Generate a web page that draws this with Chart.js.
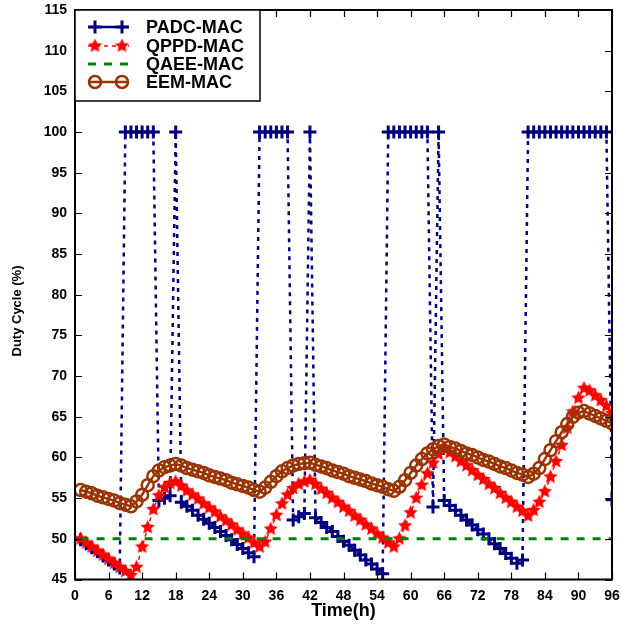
<!DOCTYPE html>
<html>
<head>
<meta charset="utf-8">
<script src="https://cdn.jsdelivr.net/npm/chart.js@4.4.0/dist/chart.umd.min.js"></script>
<style>
  html,body{margin:0;padding:0;background:#fff}
  #wrap{width:622px;height:627px}
</style>
</head>
<body>
<div id="wrap"><canvas id="c" width="622" height="627"></canvas></div>
<script>
/* ---- data (hourly, 1..96) ---- */
const HOURS = [1,2,3,4,5,6,7,8,9,10,11,12,13,14,15,16,17,18,19,20,21,22,23,24,
  25,26,27,28,29,30,31,32,33,34,35,36,37,38,39,40,41,42,43,44,45,46,47,48,
  49,50,51,52,53,54,55,56,57,58,59,60,61,62,63,64,65,66,67,68,69,70,71,72,
  73,74,75,76,77,78,79,80,81,82,83,84,85,86,87,88,89,90,91,92,93,94,95,96];

const PADC = [49.9,49.4,48.9,48.4,47.9,47.4,46.9,46.4,100,100,100,100,100,100,54.7,55.0,55.3,100,
  54.5,54.0,53.5,52.9,52.4,51.9,51.4,50.9,50.4,49.9,49.3,48.8,48.3,47.8,
  100,100,100,100,100,100,52.3,52.7,53.1,100,
  52.6,52.0,51.4,50.9,50.3,49.7,49.2,48.6,48.0,47.4,46.9,46.3,45.7,
  100,100,100,100,100,100,100,100,53.9,100,54.7,
  54.1,53.5,52.9,52.3,51.7,51.1,50.6,50.0,49.4,48.8,48.2,47.6,47.0,47.4,
  100,100,100,100,100,100,100,100,100,100,100,100,100,100,100,54.8];

const QPPD = [50.0,49.5,49.0,48.5,48.0,47.5,47.0,46.5,46.0,45.5,46.5,49.0,51.4,53.6,55.3,56.3,56.8,57.0,
  56.5,55.9,55.4,54.9,54.3,53.8,53.3,52.7,52.2,51.7,51.1,50.6,50.1,49.5,49.0,
  49.6,51.2,52.9,54.3,55.4,56.2,56.7,57.0,57.2,
  56.7,56.1,55.6,55.0,54.5,53.9,53.4,52.8,52.3,51.7,51.2,50.6,50.1,49.5,49.0,
  50.0,51.6,53.2,55.0,56.6,58.0,59.3,60.4,61.2,
  60.6,60.1,59.5,59.0,58.4,57.8,57.3,56.7,56.2,55.6,55.0,54.5,53.9,53.4,52.8,
  53.5,54.5,55.8,57.6,59.5,61.5,63.6,65.6,67.3,68.5,68.2,67.6,67.0,66.3,65.4];

const QAEE = [50,50,50,50,50,50,50,50,50,50,50,50,50,50,50,50,50,50,50,50,50,50,50,50,
  50,50,50,50,50,50,50,50,50,50,50,50,50,50,50,50,50,50,50,50,50,50,50,50,
  50,50,50,50,50,50,50,50,50,50,50,50,50,50,50,50,50,50,50,50,50,50,50,50,
  50,50,50,50,50,50,50,50,50,50,50,50,50,50,50,50,50,50,50,50,50,50,50,50];

const EEM = [56.0,55.8,55.6,55.3,55.1,54.9,54.7,54.4,54.2,54.0,54.6,55.4,56.6,57.7,58.4,58.8,59.0,59.2,
  59.0,58.7,58.5,58.3,58.1,57.8,57.6,57.4,57.2,56.9,56.7,56.5,56.3,56.0,55.8,
  56.3,57.0,57.7,58.3,58.7,59.0,59.2,59.3,59.35,
  59.1,58.9,58.7,58.4,58.2,58.0,57.7,57.5,57.3,57.1,56.8,56.6,56.4,56.1,55.9,
  56.4,57.2,58.1,59.0,59.8,60.5,61.0,61.4,61.6,
  61.3,61.1,60.8,60.5,60.3,60.0,59.7,59.5,59.2,58.9,58.7,58.4,58.1,57.9,57.6,
  58.0,58.7,59.8,60.9,62.0,63.1,64.1,65.0,65.5,65.7,65.4,65.1,64.8,64.5,64.2];

const X_TICKS = [0,6,12,18,24,30,36,42,48,54,60,66,72,78,84,90,96];
const Y_TICKS = [45,50,55,60,65,70,75,80,85,90,95,100,105,110,115];
const Y_TITLE = 'Duty Cycle (%)';

const NAVY='#00007f', RED='#ff0000', GREEN='#008000', BROWN='#993300';
const FONT = '"Liberation Sans", Arial, sans-serif';

// filled 5-point star used as marker
function starImg(color, r){
  const s = Math.ceil(r*2+2), c = document.createElement('canvas');
  c.width = c.height = s;
  const g = c.getContext('2d'); g.translate(s/2, s/2); g.beginPath();
  for(let i=0;i<10;i++){
    const rad = i%2 ? r*0.48 : r, a = -Math.PI/2 + i*Math.PI/5;
    g.lineTo(rad*Math.cos(a), rad*Math.sin(a));
  }
  g.closePath(); g.fillStyle = color; g.fill();
  return c;
}
const STAR = starImg(RED, 7.5);

const pts = arr => HOURS.map((h,i)=>({x:h, y:arr[i]}));

const SERIES = [
  {label:'PADC-MAC', data:pts(PADC), borderColor:NAVY, borderWidth:2.5, borderDash:[4,5],
   pointStyle:'cross', pointRadius:6.5, pointBorderWidth:3, pointBorderColor:NAVY, order:4, mk:'cross'},
  {label:'QPPD-MAC', data:pts(QPPD), borderColor:RED, borderWidth:1.5, borderDash:[4,4],
   pointStyle:STAR, pointRadius:7, order:3, mk:'star'},
  {label:'QAEE-MAC', data:pts(QAEE), borderColor:GREEN, borderWidth:3, borderDash:[8,8],
   pointRadius:0, order:2, mk:null},
  {label:'EEM-MAC', data:pts(EEM), borderColor:BROWN, borderWidth:2.5,
   pointStyle:'circle', pointRadius:6, pointBorderWidth:2.5, pointBorderColor:BROWN,
   pointBackgroundColor:'rgba(0,0,0,0)', order:1, mk:'circle'}
];

// no label overhang padding, so the plot box lands where layout.padding says
function noOverhang(s){ s.paddingLeft = s.paddingRight = s.paddingTop = s.paddingBottom = 0; }

/* frame, inward ticks, y title and boxed legend */
const framePlugin = {
  id:'frame',
  afterDraw(chart){
    const g = chart.ctx, a = chart.chartArea, sx = chart.scales.x, sy = chart.scales.y;
    g.save();
    g.strokeStyle = '#000'; g.lineWidth = 1.2;
    X_TICKS.forEach(v=>{ const p = Math.round(sx.getPixelForValue(v))+0.5;
      g.beginPath(); g.moveTo(p,a.bottom); g.lineTo(p,a.bottom-7); g.moveTo(p,a.top); g.lineTo(p,a.top+7); g.stroke(); });
    Y_TICKS.forEach(v=>{ const p = Math.round(sy.getPixelForValue(v))+0.5;
      g.beginPath(); g.moveTo(a.left,p); g.lineTo(a.left+7,p); g.moveTo(a.right,p); g.lineTo(a.right-7,p); g.stroke(); });
    g.lineWidth = 2;
    g.strokeRect(a.left, a.top, a.right-a.left, a.bottom-a.top);

    // y axis title, sits a bit below the axis centre like the original
    g.save();
    g.translate(17, 311); g.rotate(-Math.PI/2);
    g.fillStyle = '#000'; g.font = 'bold 13px '+FONT;
    g.textAlign = 'center'; g.textBaseline = 'middle';
    g.fillText(Y_TITLE, 0, 0);
    g.restore();

    // legend box
    const L = a.left, T = a.top, W = 185, H = 91;
    g.fillStyle = '#fff'; g.fillRect(L, T, W, H);
    g.lineWidth = 1.5; g.strokeRect(L, T, W, H);
    const rows = [T+17, T+36, T+54, T+72];
    SERIES.forEach((s,i)=>{
      const y = rows[i];
      g.save();
      g.strokeStyle = s.borderColor; g.lineWidth = s.borderWidth;
      g.setLineDash(s.mk==='cross' || s.mk==='circle' ? [] : s.borderDash);
      g.beginPath(); g.moveTo(L+13, y); g.lineTo(L+54, y); g.stroke();
      g.restore();
      [L+20, L+47].forEach(x=>{
        if(s.mk==='cross'){
          g.strokeStyle = NAVY; g.lineWidth = 3; g.beginPath();
          g.moveTo(x-6.5,y); g.lineTo(x+6.5,y); g.moveTo(x,y-6.5); g.lineTo(x,y+6.5); g.stroke();
        } else if(s.mk==='star'){
          g.drawImage(STAR, x-STAR.width/2, y-STAR.height/2);
        } else if(s.mk==='circle'){
          g.strokeStyle = BROWN; g.lineWidth = 2.5; g.beginPath(); g.arc(x,y,6,0,Math.PI*2); g.stroke();
        }
      });
      g.fillStyle = '#000'; g.font = 'bold 18px '+FONT; g.textBaseline = 'middle';
      g.fillText(s.label, L+71, y+1);
    });
    g.restore();
  }
};

new Chart(document.getElementById('c'), {
  type:'line',
  data:{datasets:SERIES},
  options:{
    responsive:false, animation:false, devicePixelRatio:1,
    layout:{padding:{top:10, right:10, left:0, bottom:0}},
    plugins:{legend:{display:false}, tooltip:{enabled:false}},
    elements:{line:{tension:0, fill:false}},
    scales:{
      x:{type:'linear', min:0, max:96,
         afterBuildTicks: s=>{ s.ticks = X_TICKS.map(v=>({value:v})); },
         afterFit: s=>{ s.height = 47.5; noOverhang(s); },
         grid:{display:false, drawTicks:false}, border:{display:false},
         ticks:{color:'#000', padding:8, maxRotation:0, autoSkip:false, font:{family:FONT, size:14, weight:'bold'}},
         title:{display:true, text:'Time(h)', color:'#000', padding:{top:0,bottom:5}, font:{family:FONT, size:18, weight:'bold'}}},
      y:{min:45, max:115,
         afterBuildTicks: s=>{ s.ticks = Y_TICKS.map(v=>({value:v})); },
         afterFit: s=>{ s.width = 75; noOverhang(s); },
         grid:{display:false, drawTicks:false}, border:{display:false},
         ticks:{color:'#000', padding:8, autoSkip:false, font:{family:FONT, size:14, weight:'bold'}}}
    }
  },
  plugins:[framePlugin]
});
</script>
</body>
</html>
